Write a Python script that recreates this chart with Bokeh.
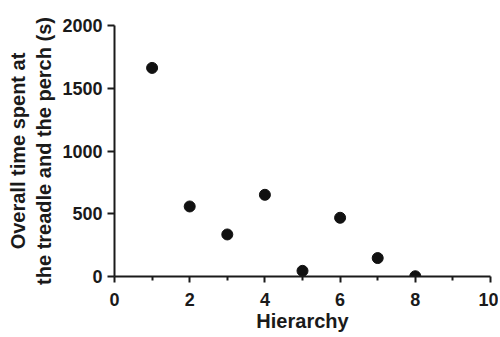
from bokeh.plotting import figure
from bokeh.models import Range1d, FixedTicker
from bokeh.embed import file_html
from bokeh.resources import INLINE

hierarchy = [1, 2, 3, 4, 5, 6, 7, 8]
time_spent = [1662, 558, 335, 651, 45, 468, 147, 2]

x_ticks = [0, 2, 4, 6, 8, 10]
x_minor = [1, 3, 5, 7, 9]
y_ticks = [0, 500, 1000, 1500, 2000]

p = figure(frame_width=376, frame_height=251, output_backend="svg", toolbar_location=None,
           x_range=Range1d(0, 10), y_range=Range1d(0, 2000),
           min_border_left=114, min_border_right=8, min_border_top=25, min_border_bottom=0)
p.outline_line_color = None
p.grid.visible = False
p.background_fill_color = "white"
p.border_fill_color = "white"

p.scatter(hierarchy, time_spent, size=11, color="#111111")

FONT = "Liberation Sans"
for ax in (p.xaxis[0], p.yaxis[0]):
    ax.axis_line_width = 2
    ax.axis_line_color = "#1a1a1a"
    ax.major_tick_line_width = 2
    ax.major_tick_line_color = "#1a1a1a"
    ax.minor_tick_line_width = 2
    ax.minor_tick_line_color = "#1a1a1a"
    ax.major_tick_in = 0
    ax.minor_tick_in = 0
    ax.major_label_text_font = FONT
    ax.major_label_text_font_style = "bold"
    ax.major_label_text_font_size = "18px"
    ax.major_label_text_color = "#1a1a1a"
    ax.axis_label_text_font = FONT
    ax.axis_label_text_font_style = "bold"
    ax.axis_label_text_font_size = "20px"
    ax.axis_label_text_color = "#1a1a1a"

p.xaxis.ticker = FixedTicker(ticks=x_ticks, minor_ticks=x_minor)
p.xaxis.major_tick_out = 6
p.xaxis.minor_tick_out = 4
p.xaxis.major_label_standoff = 10
p.xaxis.axis_label = "Hierarchy"
p.xaxis.axis_label_standoff = 1

p.yaxis.ticker = FixedTicker(ticks=y_ticks, minor_ticks=[])
p.yaxis.major_tick_out = 7
p.yaxis.major_label_standoff = 5
p.yaxis.axis_label = "Overall time spent at\nthe treadle and the perch (s)"
p.yaxis.axis_label_standoff = 4

open("out.html", "w").write(file_html(p, INLINE))
